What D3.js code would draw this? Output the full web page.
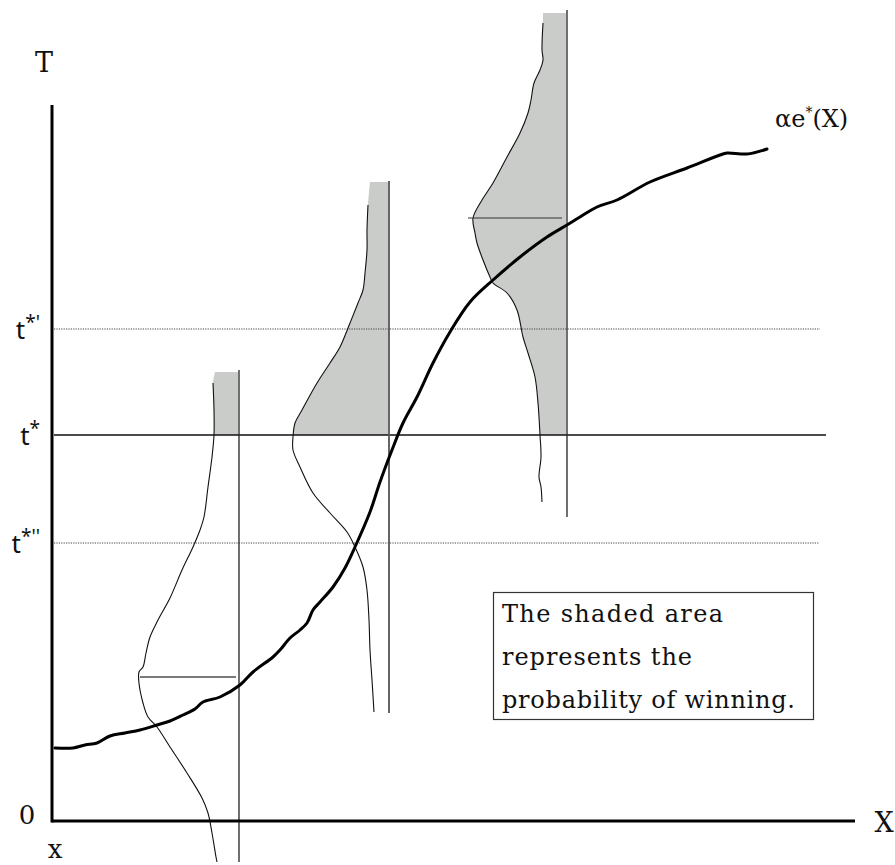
<!DOCTYPE html>
<html>
<head>
<meta charset="utf-8">
<script src="https://cdn.jsdelivr.net/npm/d3@7"></script>
<style>
  html, body { margin: 0; padding: 0; background: #fff; }
  svg { display: block; }
</style>
</head>
<body>
<svg id="chart" width="895" height="865"></svg>
<script>
// ---- data (diagram units: origin at axes corner, T up, X right) ----
const payoffCurve = [
  [3,73],[21,73],[33,76],[45,78],[58,85],[73,88],[88,91],[105,96],[118,100],[131,106],
  [143,112],[151,119],[168,124],[188,136],[201,149],[221,164],[228,171],[238,183],
  [248,191],[255,198],[261,211],[268,219],[281,234],[293,253],[303,274],[318,309],
  [328,339],[340,371],[351,398],[365,424],[381,458],[398,489],[418,519],[441,541],
  [468,564],[495,584],[515,596],[528,604],[545,614],[565,621],[598,639],[635,653],
  [668,666],[675,668],[695,667],[715,672]
];
const density1 = [
  [161,438],[162,411],[162,386],[160,364],[156,334],[152,304],[148,291],[141,274],
  [130,251],[118,223],[106,201],[98,184],[94,168],[91,154],[87,149],[87,138],[91,118],
  [96,104],[105,94],[118,74],[135,48],[150,23],[156,8],[160,-12],[164,-36],[165,-41]
];
const density2 = [
  [316,616],[315,591],[315,571],[313,548],[311,531],[306,518],[298,498],[288,474],
  [278,458],[265,438],[250,411],[243,398],[241,384],[241,371],[248,354],[261,328],
  [278,308],[295,289],[303,274],[311,254],[315,231],[317,201],[318,171],[320,141],[322,109]
];
const density3 = [
  [491,798],[490,771],[491,761],[488,751],[482,738],[479,721],[476,708],[468,688],
  [455,664],[441,638],[430,621],[421,603],[423,588],[425,578],[431,561],[438,544],
  [441,538],[455,528],[465,511],[471,484],[476,468],[483,444],[486,418],[488,386],
  [489,364],[487,344],[489,334],[490,319]
];
// vertical reference lines at each X: [x, yBottom, yTop], and shade top point
const vLines = [[187,-41,451],[337,108,640],[515,304,811]];
const shadeTops = [[163,449],[318,639],[491,808]];
// horizontal mean markers: [x0, x1, y]
const meanMarks = [[88,184,144],[416,510,603]];
// thresholds
const thresholdBase = ["t", "t", "t"];
const thresholdMarks = ["*'", "*", "*''"];
const thresholdValues = [492, 386, 278];
const thresholdEnds = [768, 774, 767];
const xMax = 803, yMax = 716;

// ---- scales ----
const svg = d3.select("#chart");
const x = d3.scaleLinear().domain([0, xMax]).range([52, 855]);
const y = d3.scaleLinear().domain([0, yMax]).range([821, 105]);

const serif = "'DejaVu Serif', 'Liberation Serif', serif";
const sans = "'Noto Sans', 'DejaVu Sans', sans-serif";

// clip for shading (only above t*)
const tStar = thresholdValues[1];
svg.append("defs").append("clipPath").attr("id", "aboveT")
  .append("rect").attr("x", 0).attr("y", 0).attr("width", 895).attr("height", y(tStar));

const curve = d3.curveCatmullRom.alpha(0.5);
const densities = [density1, density2, density3];

// shaded areas
densities.forEach((dens, i) => {
  const pts = [shadeTops[i]].concat(dens);
  const area = d3.area()
    .y(d => y(d[1]))
    .x0(d => x(d[0]))
    .x1(x(vLines[i][0]) - 1)
    .curve(curve);
  svg.append("path").attr("d", area(pts))
    .attr("fill", "#c9ccc9").attr("clip-path", "url(#aboveT)");
});

// threshold lines
thresholdValues.forEach((v, i) => {
  const l = svg.append("line")
    .attr("x1", x(2)).attr("x2", x(thresholdEnds[i]))
    .attr("y1", y(v)).attr("y2", y(v));
  if (i === 1) l.attr("stroke", "#111").attr("stroke-width", 1.4);
  else l.attr("stroke", "#444").attr("stroke-width", 1).attr("stroke-dasharray", "1.2,1.2");
});

// vertical lines
const vColors = ["#222", "#555", "#222"];
const vWidths = [1.3, 1.8, 1.3];
vLines.forEach((v, i) => {
  svg.append("line")
    .attr("x1", x(v[0])).attr("x2", x(v[0]))
    .attr("y1", y(v[1])).attr("y2", y(v[2]))
    .attr("stroke", vColors[i]).attr("stroke-width", vWidths[i]);
});

// density curves
const line = d3.line().x(d => x(d[0])).y(d => y(d[1])).curve(curve);
densities.forEach(dens => {
  svg.append("path").attr("d", line(dens))
    .attr("fill", "none").attr("stroke", "#111").attr("stroke-width", 1.1);
});

// mean markers
const meanColors = ["#7a7a7a", "#333"];
const meanWidths = [2, 1.2];
meanMarks.forEach((m, i) => {
  svg.append("line")
    .attr("x1", x(m[0])).attr("x2", x(m[1]))
    .attr("y1", y(m[2])).attr("y2", y(m[2]))
    .attr("stroke", meanColors[i]).attr("stroke-width", meanWidths[i]);
});

// payoff curve
svg.append("path").attr("d", line(payoffCurve))
  .attr("fill", "none").attr("stroke", "#000").attr("stroke-width", 3)
  .attr("stroke-linejoin", "round").attr("stroke-linecap", "round");

// axes
svg.append("line").attr("x1", x(0)).attr("x2", x(0)).attr("y1", y(0) + 1.5).attr("y2", y(yMax))
  .attr("stroke", "#000").attr("stroke-width", 3);
svg.append("line").attr("x1", x(0)).attr("x2", x(xMax)).attr("y1", y(0)).attr("y2", y(0))
  .attr("stroke", "#000").attr("stroke-width", 3);

// axis labels
const lbl = (t, px, py, size) => svg.append("text").text(t)
  .attr("x", px).attr("y", py).attr("font-family", serif).attr("font-size", size)
  .attr("text-anchor", "middle").attr("fill", "#111");
lbl("T", 44, 72, 27);
lbl("0", 27, 824, 26);
lbl("x", 55, 858, 26);
lbl("X", 884, 832, 27);

// threshold labels
thresholdValues.forEach((v, i) => {
  const t = svg.append("text")
    .attr("x", 40).attr("y", y(v) + 10)
    .attr("text-anchor", "end").attr("font-family", sans).attr("font-size", 26)
    .attr("fill", "#111");
  t.append("tspan").text(thresholdBase[i]);
  t.append("tspan").text(thresholdMarks[i]).attr("font-size", 19).attr("dy", -10);
});

// curve label
const cl = svg.append("text").attr("x", 775).attr("y", 127)
  .attr("font-family", serif).attr("font-size", 24).attr("fill", "#111");
cl.append("tspan").text("αe");
cl.append("tspan").text("*").attr("font-size", 14).attr("dy", -10);
cl.append("tspan").text("(X)").attr("dy", 10);

// annotation box
const boxLines = ["The shaded area", "represents the", "probability of winning."];
const boxWidths = [221, 190, 293];
svg.append("rect").attr("x", 493.5).attr("y", 592.5).attr("width", 320).attr("height", 127)
  .attr("fill", "none").attr("stroke", "#333").attr("stroke-width", 1.2);
boxLines.forEach((s, i) => {
  svg.append("text").text(s)
    .attr("x", 502).attr("y", 622 + i * 43)
    .attr("font-family", serif).attr("font-size", 24).attr("fill", "#111")
    .attr("textLength", boxWidths[i]).attr("lengthAdjust", "spacing");
});
</script>
</body>
</html>
